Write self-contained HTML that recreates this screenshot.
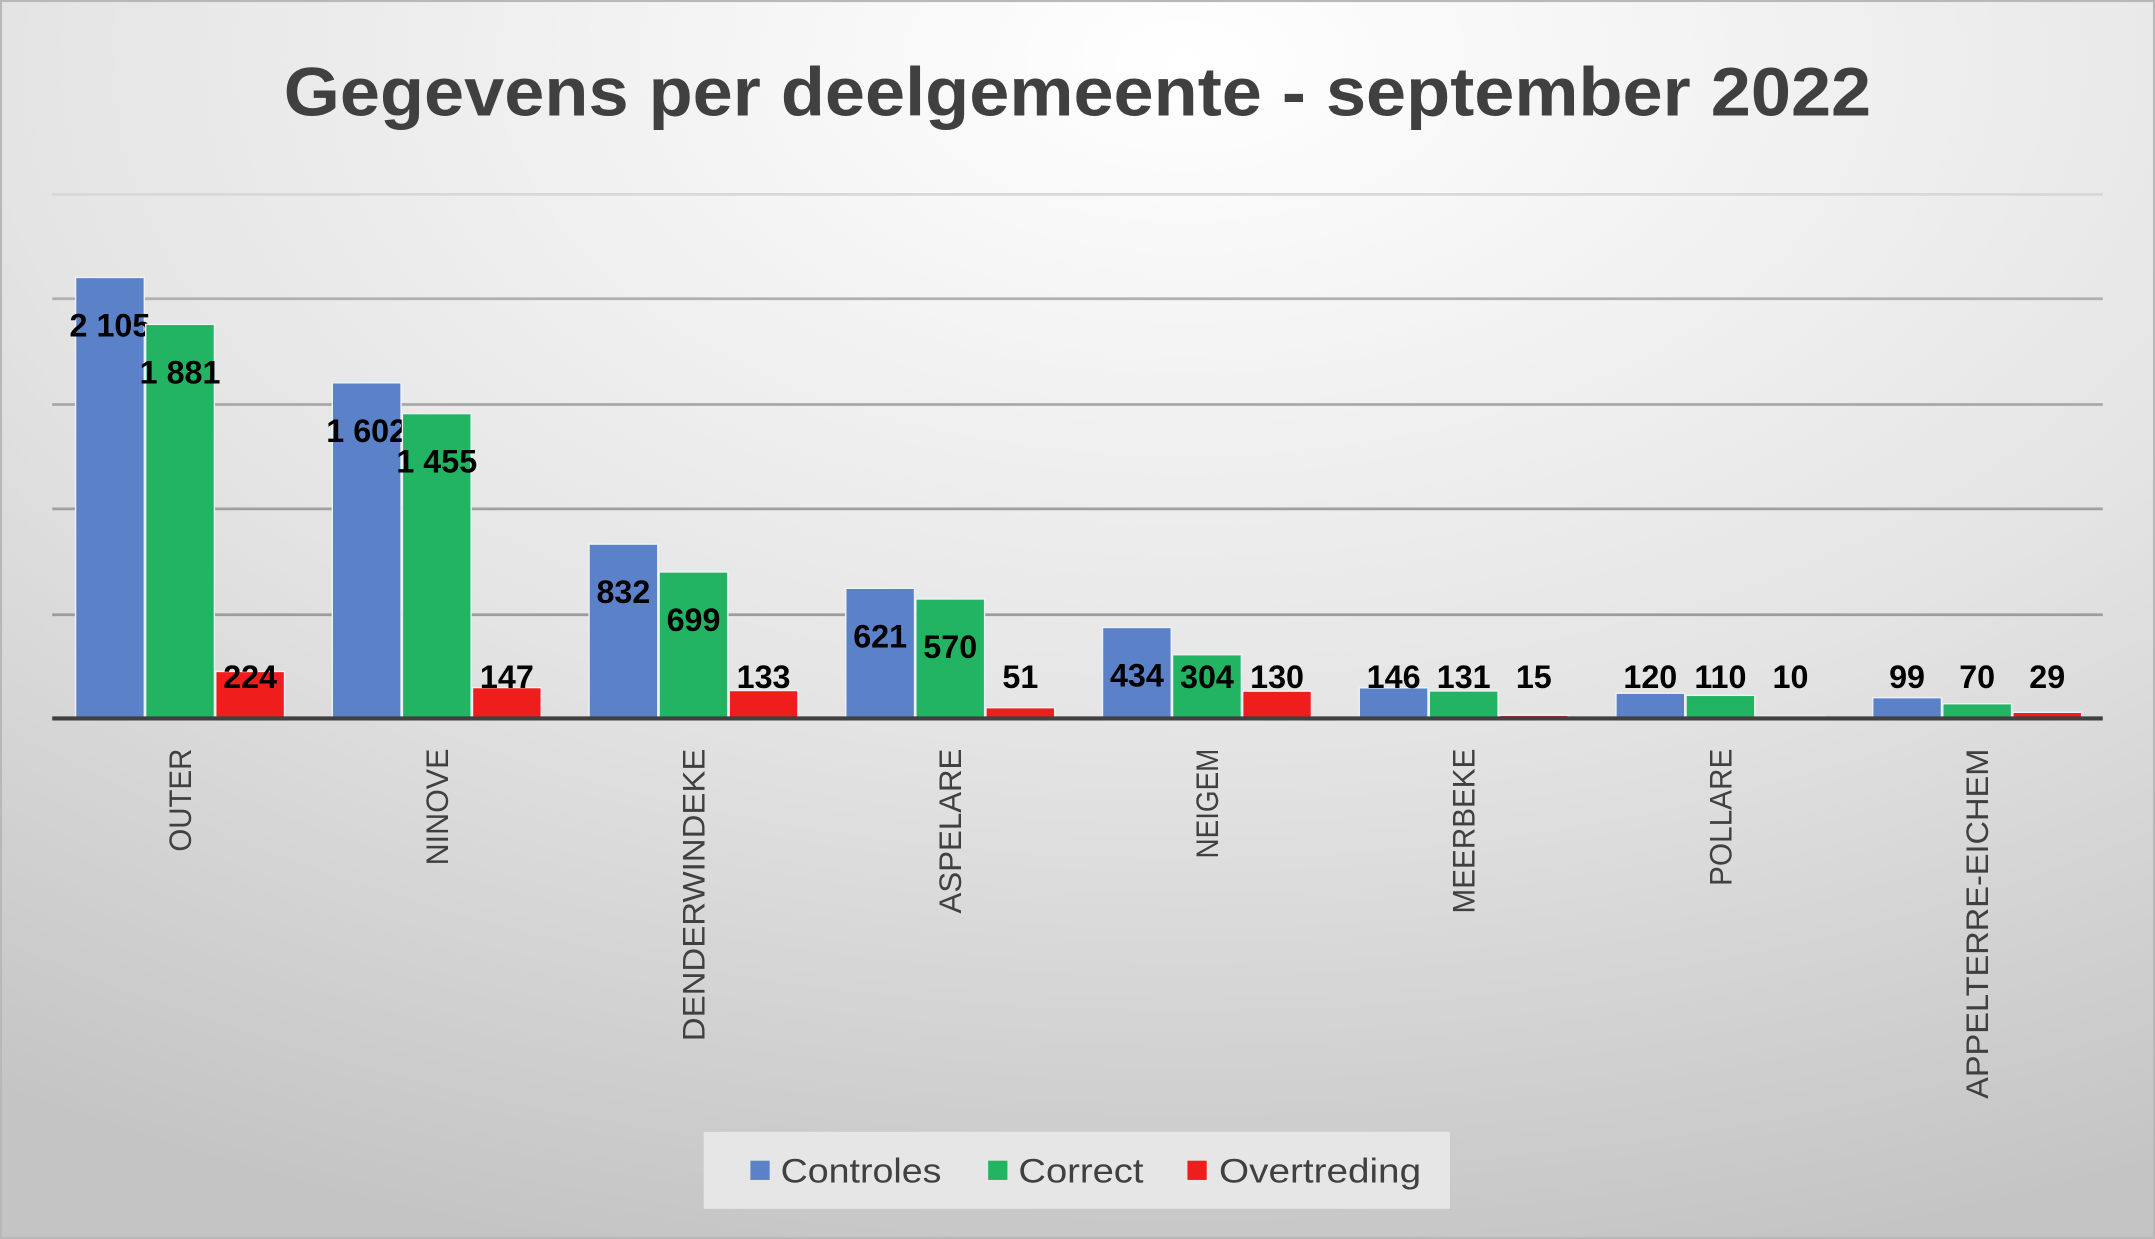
<!DOCTYPE html>
<html><head><meta charset="utf-8"><style>
html,body{margin:0;padding:0;background:#fff}
svg{display:block}
text{font-family:"Liberation Sans",sans-serif}
</style></head><body>
<svg width="2155" height="1239" viewBox="0 0 1568 902" preserveAspectRatio="none" xmlns="http://www.w3.org/2000/svg">
<defs>
<radialGradient id="bg" cx="0.55" cy="0.05" r="1.0">
<stop offset="0" stop-color="#ffffff"/>
<stop offset="0.55" stop-color="#e4e4e4"/>
<stop offset="1" stop-color="#c4c4c4"/>
</radialGradient>
</defs>
<rect x="0" y="0" width="1568" height="902" fill="url(#bg)"/>
<rect x="0.5" y="0.5" width="1567" height="901" fill="none" stroke="#b8b8b8" stroke-width="2"/>
<text x="784" y="84" text-anchor="middle" font-size="50" font-weight="bold" fill="#404040" textLength="1155" lengthAdjust="spacingAndGlyphs">Gegevens per deelgemeente - september 2022</text>
<g stroke-width="2">
<line x1="38" x2="1530" y1="141.5" y2="141.5" stroke="#d8d8d8"/>
<line x1="38" x2="1530" y1="217.5" y2="217.5" stroke="#b0b0b0"/>
<line x1="38" x2="1530" y1="294.5" y2="294.5" stroke="#a8a8a8"/>
<line x1="38" x2="1530" y1="370.5" y2="370.5" stroke="#a0a0a0"/>
<line x1="38" x2="1530" y1="447.5" y2="447.5" stroke="#9c9c9c"/>
</g>
<g id="bars" stroke="#eef2f8" stroke-width="1" font-weight="bold" font-size="23.5">
</g>
<line x1="38" x2="1530" y1="523" y2="523" stroke="#404040" stroke-width="3"/>
<g id="cats" font-size="23" fill="#404040"></g>
<rect x="512" y="824" width="543" height="56" fill="#e6e6e6"/>
<rect x="546" y="845" width="14" height="14" fill="#5b81c9"/>
<text x="568" y="861" font-size="25" fill="#404040" textLength="117" lengthAdjust="spacingAndGlyphs">Controles</text>
<rect x="719" y="845" width="14" height="14" fill="#22b463"/>
<text x="741" y="861" font-size="25" fill="#404040" textLength="91" lengthAdjust="spacingAndGlyphs">Correct</text>
<rect x="864" y="845" width="14" height="14" fill="#f01d1d"/>
<text x="887" y="861" font-size="25" fill="#404040" textLength="147" lengthAdjust="spacingAndGlyphs">Overtreding</text>
<script>
const data=[["OUTER",2105,1881,224],["NINOVE",1602,1455,147],["DENDERWINDEKE",832,699,133],["ASPELARE",621,570,51],["NEIGEM",434,304,130],["MEERBEKE",146,131,15],["POLLARE",120,110,10],["APPELTERRE-EICHEM",99,70,29]];
const cols=["#5b81c9","#22b463","#f01d1d"];
const ns="http://www.w3.org/2000/svg";
const g=document.getElementById("bars"),c=document.getElementById("cats");
function fmt(v){return v>=1000?Math.floor(v/1000)+" "+String(v%1000).padStart(3,"0"):String(v);}
const catLen=[75,85,213,120,80,120,100,255];
data.forEach((d,i)=>{
 const x0=55+i*186.8;
 for(let k=0;k<3;k++){
  const v=d[k+1],h=v*0.1525,x=x0+k*51,top=523-h;
  const r=document.createElementNS(ns,"rect");
  r.setAttribute("x",x);r.setAttribute("y",top);r.setAttribute("width",50);r.setAttribute("height",h);r.setAttribute("fill",cols[k]);
  g.appendChild(r);
  const t=document.createElementNS(ns,"text");
  t.setAttribute("x",x+25);t.setAttribute("y",Math.min(top+43,501));
  t.setAttribute("text-anchor","middle");t.setAttribute("fill","#000");t.setAttribute("stroke","none");
  t.textContent=fmt(v);g.appendChild(t);
 }
 const t=document.createElementNS(ns,"text");
 const cx=x0+76+8;
 t.setAttribute("transform","translate("+cx+",545) rotate(-90)");
 t.setAttribute("text-anchor","end");
 t.setAttribute("textLength",catLen[i]);t.setAttribute("lengthAdjust","spacingAndGlyphs");
 t.textContent=d[0];c.appendChild(t);
});
</script>
</svg>
</body></html>
